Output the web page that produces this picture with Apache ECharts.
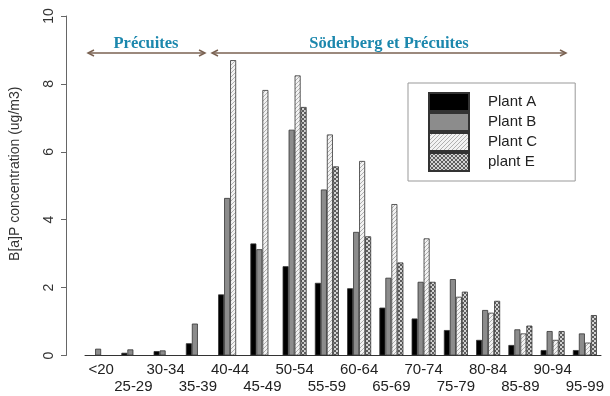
<!DOCTYPE html>
<html>
<head>
<meta charset="utf-8">
<script src="https://cdn.jsdelivr.net/npm/echarts@6/dist/echarts.min.js"></script>
<style>
  html, body { margin: 0; padding: 0; background: #fff; }
  #chart { width: 610px; height: 396px; }
</style>
</head>
<body>
<div id="chart"></div>
<script>
const categories = ["<20", "25-29", "30-34", "35-39", "40-44", "45-49", "50-54", "55-59",
    "60-64", "65-69", "70-74", "75-79", "80-84", "85-89", "90-94", "95-99"];
const plantA = [null, 0.08, 0.13, 0.36, 1.8, 3.3, 2.63, 2.14, 1.98, 1.41, 1.09, 0.75, 0.46, 0.31, 0.16, 0.16];
const plantB = [0.2, 0.18, 0.15, 0.94, 4.64, 3.13, 6.65, 4.89, 3.64, 2.29, 2.17, 2.25, 1.34, 0.77, 0.72, 0.65];
const plantC = [null, null, null, null, 8.7, 7.82, 8.25, 6.51, 5.73, 4.46, 3.45, 1.73, 1.26, 0.65, 0.46, 0.38];
const plantE = [null, null, null, null, null, null, 7.32, 5.57, 3.51, 2.74, 2.17, 1.88, 1.61, 0.88, 0.72, 1.19];
const yTicks = [0, 2, 4, 6, 8, 10];

// small canvas fills for the hatched bars
function makePattern(size, draw) {
    const c = document.createElement("canvas");
    c.width = size;
    c.height = size;
    draw(c.getContext("2d"), size);
    return { image: c, repeat: "repeat" };
}

const hatchC = makePattern(4, (ctx, s) => {
    ctx.fillStyle = "#f2f2f2";
    ctx.fillRect(0, 0, s, s);
    ctx.strokeStyle = "#b0b0b0";
    ctx.lineWidth = 1;
    ctx.beginPath();
    ctx.moveTo(0, s);
    ctx.lineTo(s, 0);
    ctx.stroke();
});

const hatchE = makePattern(4, (ctx, s) => {
    ctx.fillStyle = "#d4d4d4";
    ctx.fillRect(0, 0, s, s);
    ctx.fillStyle = "#5e5e5e";
    ctx.fillRect(0, 0, 2, 2);
    ctx.fillRect(2, 2, 2, 2);
});

const chart = echarts.init(document.getElementById("chart"));

const barStyle = (color) => ({
    color: color,
    borderColor: "#333",
    borderWidth: 0.8,
});

const makeSeries = (name, data, color) => ({
    name: name,
    type: "bar",
    data: data,
    barWidth: 6,
    barGap: "0%",
    itemStyle: barStyle(color),
});

const arrowColor = "#7a6252";
const labelColor = "#1b87ad";
const labelFont = 'bold 16.5px "Liberation Serif", serif';

function arrow(x1, x2, y) {
    return [
        { type: "line", shape: { x1: x1, y1: y, x2: x2, y2: y }, style: { stroke: arrowColor, lineWidth: 1.5 } },
        { type: "polyline", shape: { points: [[x1 + 6, y - 3], [x1, y], [x1 + 6, y + 3]] }, style: { stroke: arrowColor, lineWidth: 1.5, fill: null } },
        { type: "polyline", shape: { points: [[x2 - 6, y - 3], [x2, y], [x2 - 6, y + 3]] }, style: { stroke: arrowColor, lineWidth: 1.5, fill: null } },
    ];
}

const option = {
    backgroundColor: "#fff",
    animation: false,
    textStyle: { fontFamily: "Liberation Sans, Arial, sans-serif" },
    grid: { left: 84, right: 9, top: 16, bottom: 40.5 },
    legend: {
        orient: "vertical",
        left: 408,
        top: 83,
        itemWidth: 40,
        itemHeight: 18,
        itemGap: 0,
        padding: [9, 38, 9, 20],
        borderColor: "#999",
        borderWidth: 1,
        icon: "rect",
        textStyle: { fontSize: 15, color: "#222", padding: [0, 0, 0, 14] },
        data: ["Plant A", "Plant B", "Plant C", "plant E"],
    },
    xAxis: {
        type: "category",
        data: categories,
        axisLine: { lineStyle: { color: "#333", width: 1 } },
        axisTick: { show: false },
        axisLabel: {
            interval: 0,
            hideOverlap: false,
            fontSize: 15,
            color: "#222",
            lineHeight: 17,
            margin: 6,
            formatter: (v, i) => (i % 2 === 1 ? "\n" + v : v),
        },
    },
    yAxis: {
        type: "value",
        min: yTicks[0],
        max: yTicks[yTicks.length - 1],
        interval: 2,
        offset: 19,
        name: "B[a]P concentration (ug/m3)",
        nameLocation: "middle",
        nameGap: 44,
        nameTextStyle: { fontSize: 14, color: "#333", padding: [0, 0, 0, 24] },
        axisLine: { show: true, lineStyle: { color: "#666" } },
        axisTick: { show: true, length: 5, lineStyle: { color: "#666" } },
        axisLabel: { rotate: 90, fontSize: 14, color: "#333", margin: 10 },
        splitLine: { show: false },
    },
    series: [
        makeSeries("Plant A", plantA, "#000"),
        makeSeries("Plant B", plantB, "#8c8c8c"),
        makeSeries("Plant C", plantC, hatchC),
        makeSeries("plant E", plantE, hatchE),
    ],
    graphic: [
        { type: "text", x: 146, y: 44, style: { text: "Précuites", font: labelFont, fill: labelColor, align: "center", verticalAlign: "middle" } },
        { type: "text", x: 389, y: 44, style: { text: "Söderberg et Précuites", font: labelFont, fill: labelColor, align: "center", verticalAlign: "middle" } },
        ...arrow(88, 205, 53),
        ...arrow(212, 566, 53),
    ],
};

chart.setOption(option);
</script>
</body>
</html>
